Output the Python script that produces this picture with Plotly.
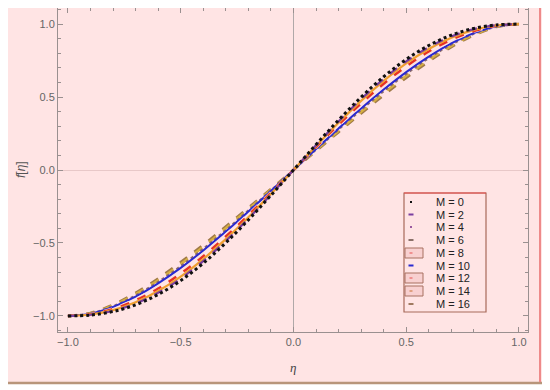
import plotly.graph_objects as go

eta = [-1.0, -0.9, -0.8, -0.7, -0.6, -0.5, -0.4, -0.3, -0.2, -0.1, 0.0,
       0.1, 0.2, 0.3, 0.4, 0.5, 0.6, 0.7, 0.8, 0.9, 1.0]

M_labels = ["M = 0", "M = 2", "M = 4", "M = 6", "M = 8", "M = 10", "M = 12", "M = 14", "M = 16"]

f_M0 = [-1.000, -0.994, -0.970, -0.924, -0.853, -0.758, -0.639, -0.499, -0.342, -0.174, 0.0,
        0.174, 0.342, 0.499, 0.639, 0.758, 0.853, 0.924, 0.970, 0.994, 1.000]
f_M2 = [-1.000, -0.992, -0.965, -0.915, -0.841, -0.744, -0.624, -0.486, -0.333, -0.169, 0.0,
        0.169, 0.333, 0.486, 0.624, 0.744, 0.841, 0.915, 0.965, 0.992, 1.000]
f_M4 = [-1.000, -0.990, -0.960, -0.906, -0.829, -0.730, -0.610, -0.474, -0.324, -0.164, 0.0,
        0.164, 0.324, 0.474, 0.610, 0.730, 0.829, 0.906, 0.960, 0.990, 1.000]
f_M6 = [-1.000, -0.988, -0.952, -0.893, -0.812, -0.710, -0.591, -0.456, -0.311, -0.157, 0.0,
        0.157, 0.311, 0.456, 0.591, 0.710, 0.812, 0.893, 0.952, 0.988, 1.000]
f_M8 = [-1.000, -0.986, -0.946, -0.882, -0.797, -0.693, -0.574, -0.441, -0.300, -0.151, 0.0,
        0.151, 0.300, 0.441, 0.574, 0.693, 0.797, 0.882, 0.946, 0.986, 1.000]
f_M10 = [-1.000, -0.984, -0.938, -0.868, -0.777, -0.671, -0.551, -0.422, -0.285, -0.144, 0.0,
         0.144, 0.285, 0.422, 0.551, 0.671, 0.777, 0.868, 0.938, 0.984, 1.000]
f_M12 = [-1.000, -0.982, -0.934, -0.860, -0.767, -0.659, -0.540, -0.412, -0.278, -0.140, 0.0,
         0.140, 0.278, 0.412, 0.540, 0.659, 0.767, 0.860, 0.934, 0.982, 1.000]
f_M14 = [-1.000, -0.981, -0.928, -0.851, -0.755, -0.645, -0.526, -0.399, -0.268, -0.135, 0.0,
         0.135, 0.268, 0.399, 0.526, 0.645, 0.755, 0.851, 0.928, 0.981, 1.000]
f_M16 = [-1.000, -0.979, -0.923, -0.842, -0.743, -0.631, -0.512, -0.387, -0.259, -0.130, 0.0,
         0.130, 0.259, 0.387, 0.512, 0.631, 0.743, 0.842, 0.923, 0.979, 1.000]

series = [f_M0, f_M2, f_M4, f_M6, f_M8, f_M10, f_M12, f_M14, f_M16]
colors = ["#111111", "#7a3fa0", "#f0a030", "#e83222", "#fae0e0", "#2a2ad0", "#8a6a70", "#d8b040", "#a07a48"]
dashes = ["dot", "dash", "solid", "dash", "dash", "solid", "dot", "dash", "dash"]
widths = [3, 2.2, 2.2, 2.5, 2, 2, 2.2, 2.5, 2.5]

# The page body has an 8px margin; figure size is reduced so the plot sits where the reference's does.
OFF = 8
W, H = 550 - OFF, 390 - OFF
L, T = 58 - OFF, 8 - OFF
PR, PB = 528 - OFF, 332 - OFF  # plot-area right / bottom in figure pixels
R, B = W - PR, H - PB
PW, PH = PR - L, PB - T


def px(x):
    """window x pixel -> paper coordinate"""
    return (x - OFF - L) / PW


def py(y):
    """window y pixel -> paper coordinate"""
    return (PB - (y - OFF)) / PH


fig = go.Figure()
order = [8, 7, 6, 5, 4, 3, 2, 1, 0]
for i in order:
    fig.add_trace(go.Scatter(
        x=eta, y=series[i], mode="lines", name=M_labels[i],
        line=dict(color=colors[i], width=widths[i], dash=dashes[i], shape="spline", smoothing=1.0),
        showlegend=False,
    ))

shapes = []
annotations = []
# outer pink frame
shapes.append(dict(type="rect", xref="paper", yref="paper", x0=px(0), x1=px(548), y0=py(383), y1=py(0),
                   fillcolor="#ffe4e4", line=dict(width=0), layer="below"))
shapes.append(dict(type="line", xref="paper", yref="paper", x0=px(8), x1=px(548), y0=py(383), y1=py(383),
                   line=dict(color="#b8957a", width=2.5)))
shapes.append(dict(type="line", xref="paper", yref="paper", x0=px(540), x1=px(540), y0=py(382), y1=py(8),
                   line=dict(color="#ee8a8a", width=2)))

# legend box
lx0, lx1, ly0, ly1 = 404, 486, 193, 312
shapes.append(dict(type="rect", xref="paper", yref="paper", x0=px(lx0), x1=px(lx1), y0=py(ly1), y1=py(ly0),
                   fillcolor="#ffe4e4", line=dict(color="#a86a5a", width=1.2)))
shapes.append(dict(type="line", xref="paper", yref="paper", x0=px(lx0), x1=px(lx1), y0=py(ly0), y1=py(ly0),
                   line=dict(color="#e84848", width=1.2)))
row_y = [202, 214.5, 227, 240, 253, 265.5, 278, 291, 304]
sym_colors = ["#111111", "#7a3fa0", "#9a5aa0", "#8a7068", "#f09090", "#2a2ad0", "#f09090", "#e0a080", "#a07a60"]
sym_len = [2, 5, 2, 5, 3, 5, 3, 3, 5]
boxed = [4, 6, 7]
for k, lab in enumerate(M_labels):
    yy = row_y[k]
    if k in boxed:
        shapes.append(dict(type="rect", xref="paper", yref="paper", x0=px(405), x1=px(423),
                           y0=py(yy + 5), y1=py(yy - 5), fillcolor="#f8d0d0",
                           line=dict(color="#a87060", width=1)))
    shapes.append(dict(type="line", xref="paper", yref="paper", x0=px(411 - sym_len[k] / 2),
                       x1=px(411 + sym_len[k] / 2), y0=py(yy), y1=py(yy),
                       line=dict(color=sym_colors[k], width=2)))
    annotations.append(dict(text=lab, xref="paper", yref="paper", x=px(435), y=py(yy),
                            xanchor="left", yanchor="middle", showarrow=False, borderpad=0,
                            font=dict(size=11, color="#222222", family="Liberation Sans, Arial")))

# axis titles
annotations.append(dict(text="<i>f</i>[<i>η</i>]", xref="paper", yref="paper", x=px(21), y=py(170),
                        textangle=-90, showarrow=False, xanchor="center", yanchor="middle",
                        font=dict(size=12, color="#555555", family="Liberation Sans, Arial")))
annotations.append(dict(text="<i>η</i>", xref="paper", yref="paper", x=px(293), y=py(367),
                        showarrow=False, xanchor="center", yanchor="middle",
                        font=dict(size=13, color="#444444", family="Liberation Serif, serif")))

axis_common = dict(
    showgrid=False, showline=True, linecolor="#9a9090", linewidth=1, mirror="ticks",
    ticks="inside", ticklen=5, tickcolor="#9a9090", tickwidth=1,
    tickfont=dict(size=11, color="#666666", family="Liberation Sans, Arial"),
    tickformat=".1f", dtick=0.5, tick0=0,
    minor=dict(ticks="inside", dtick=0.1, ticklen=3, tickcolor="#9a9090"),
    zeroline=True,
)

fig.update_layout(
    width=W, height=H,
    margin=dict(l=L, r=R, t=T, b=B),
    paper_bgcolor="white",
    plot_bgcolor="rgba(0,0,0,0)",
    shapes=shapes,
    annotations=annotations,
    showlegend=False,
)
fig.update_xaxes(range=[-1.044, 1.040], zerolinecolor="#b0a8a8", zerolinewidth=1, **axis_common)
fig.update_yaxes(range=[-1.11, 1.11], zerolinecolor="#e8c8c8", zerolinewidth=1, **axis_common)

fig.write_html("out.html")
